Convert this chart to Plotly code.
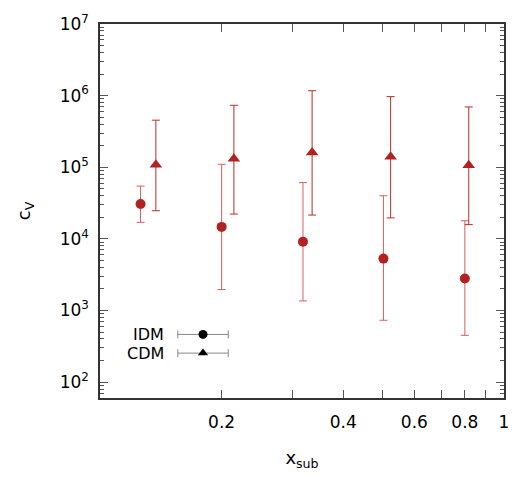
import plotly.graph_objects as go

# ---- data ----
idm_x = [0.126, 0.200, 0.318, 0.503, 0.800]
idm_y = [30600, 14700, 9100, 5300, 2800]
idm_hi = [54500, 110000, 61000, 40000, 17900]
idm_lo = [17000, 1960, 1360, 730, 450]

cdm_x = [0.1375, 0.2145, 0.335, 0.524, 0.818]
cdm_y = [108000, 131000, 160000, 140000, 107000]
cdm_hi = [454000, 733000, 1170000, 968000, 695000]
cdm_lo = [24700, 22200, 21500, 19600, 15800]

x_tickvals = [0.2, 0.4, 0.6, 0.8, 1.0]
x_ticktext = ["0.2", "0.4", "0.6", "0.8", "1"]
x_unlabeled = [0.1, 0.3, 0.5, 0.7, 0.9]
y_decades = [2, 3, 4, 5, 6, 7]
y_ticktext = ["10<sup>%d</sup>" % d for d in y_decades]

legend_names = ["IDM", "CDM"]
legend_symbols = ["circle", "triangle-up"]

FONT = "DejaVu Sans, Liberation Sans, sans-serif"
MARK = "#b22222"

fig = go.Figure()

fig.add_trace(go.Scatter(
    x=idm_x, y=idm_y, mode="markers",
    marker=dict(symbol="circle", size=10, color=MARK),
    error_y=dict(type="data", symmetric=False,
                 array=[h - v for h, v in zip(idm_hi, idm_y)],
                 arrayminus=[v - l for v, l in zip(idm_y, idm_lo)],
                 color="rgba(215,95,95,1)", thickness=1, width=4),
    showlegend=False))

fig.add_trace(go.Scatter(
    x=cdm_x, y=cdm_y, mode="markers",
    marker=dict(symbol="triangle-up", size=11, color=MARK),
    error_y=dict(type="data", symmetric=False,
                 array=[h - v for h, v in zip(cdm_hi, cdm_y)],
                 arrayminus=[v - l for v, l in zip(cdm_y, cdm_lo)],
                 color="rgba(185,45,45,1)", thickness=1, width=4),
    showlegend=False))

# manual gnuplot-style key on an overlay axis
key_x = 0.255
key_y = [0.170, 0.120]
for name, sym, ky in zip(legend_names, legend_symbols, key_y):
    fig.add_trace(go.Scatter(
        x=[key_x], y=[ky], xaxis="x2", yaxis="y2", mode="markers",
        marker=dict(symbol=sym, size=9, color="black"),
        error_x=dict(type="constant", value=0.0624, color="#888888",
                     thickness=1, width=4),
        showlegend=False, hoverinfo="skip"))
    fig.add_annotation(x=0.163, y=ky, xref="x2", yref="y2", text=name,
                       showarrow=False, xanchor="right", yanchor="middle",
                       font=dict(family=FONT, size=16, color="black"))

minor_y = [m * 10 ** d for d in range(1, 7) for m in range(2, 10)]

hidden = dict(range=[0, 1], showticklabels=False, ticks="", showline=False,
              showgrid=False, zeroline=False, fixedrange=True)

fig.update_layout(
    width=525, height=480,
    margin=dict(l=100, r=21, t=22, b=82),
    paper_bgcolor="white", plot_bgcolor="white",
    font=dict(family=FONT, size=16, color="black"),
    xaxis=dict(type="log", range=[-1, 0],
               tickvals=x_tickvals, ticktext=x_ticktext,
               ticks="inside", ticklen=8, tickcolor="#555555",
               showline=True, linecolor="#333333", linewidth=1.5,
               mirror="ticks", showgrid=False, zeroline=False,
               tickfont=dict(size=17), ticklabelstandoff=8,
               minor=dict(tickvals=x_unlabeled, ticks="inside", ticklen=8,
                          tickcolor="#555555", showgrid=False),
               title=dict(text="x<sub>sub</sub>", font=dict(size=18), standoff=20)),
    yaxis=dict(type="log", range=[1.778, 7],
               tickvals=[10 ** d for d in y_decades], ticktext=y_ticktext,
               ticks="inside", ticklen=8, tickcolor="#555555",
               showline=True, linecolor="#333333", linewidth=1.5,
               mirror="ticks", showgrid=False, zeroline=False,
               tickfont=dict(size=17), ticklabelstandoff=6,
               minor=dict(tickvals=minor_y, ticks="inside", ticklen=4,
                          tickcolor="#555555", showgrid=False),
               title=dict(text="c<sub>V</sub>", font=dict(size=18), standoff=24)),
    xaxis2=dict(overlaying="x", **hidden),
    yaxis2=dict(overlaying="y", **hidden),
)

fig.write_html("out.html")
